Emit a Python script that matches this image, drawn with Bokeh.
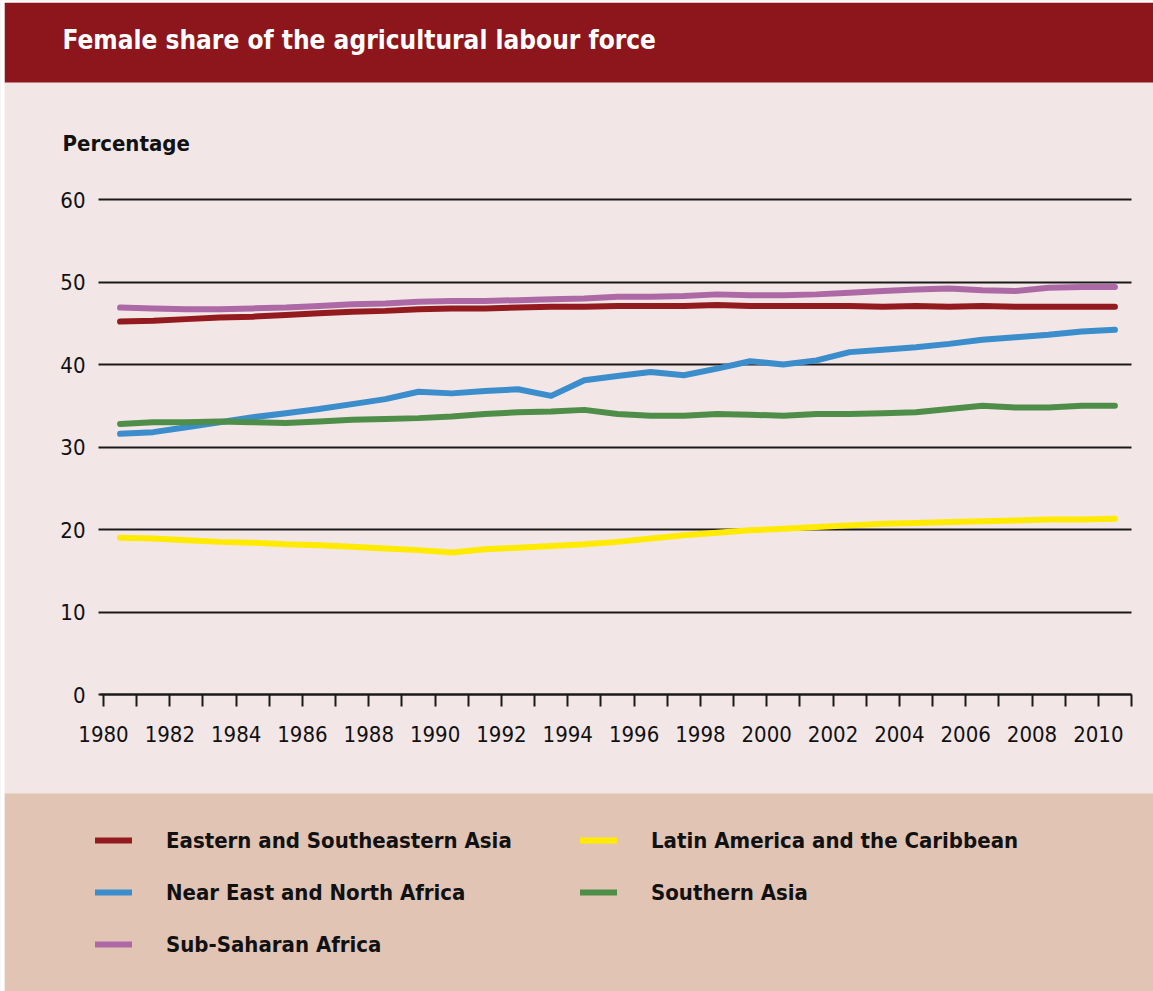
from bokeh.plotting import figure
from bokeh.models import (BoxAnnotation, Label, Legend, LegendItem, FixedTicker, Range1d)
from bokeh.embed import file_html
from bokeh.resources import INLINE

# ---- data ----
years = list(range(1980, 2011))
east_se_asia = [45.2, 45.3, 45.5, 45.7, 45.8, 46.0, 46.2, 46.4, 46.5, 46.7, 46.8,
                46.8, 46.9, 47.0, 47.0, 47.1, 47.1, 47.1, 47.2, 47.1, 47.1,
                47.1, 47.1, 47.0, 47.1, 47.0, 47.1, 47.0, 47.0, 47.0, 47.0]
latin_america = [19.0, 18.9, 18.7, 18.5, 18.4, 18.2, 18.1, 17.9, 17.7, 17.5, 17.2,
                 17.6, 17.8, 18.0, 18.2, 18.5, 18.9, 19.3, 19.6, 19.9, 20.1,
                 20.3, 20.5, 20.7, 20.8, 20.9, 21.0, 21.1, 21.2, 21.2, 21.3]
near_east = [31.6, 31.8, 32.4, 33.0, 33.6, 34.1, 34.6, 35.2, 35.8, 36.7, 36.5,
             36.8, 37.0, 36.2, 38.1, 38.6, 39.1, 38.7, 39.5, 40.4, 40.0,
             40.5, 41.5, 41.8, 42.1, 42.5, 43.0, 43.3, 43.6, 44.0, 44.2]
southern_asia = [32.8, 33.0, 33.0, 33.1, 33.0, 32.9, 33.1, 33.3, 33.4, 33.5, 33.7,
                 34.0, 34.2, 34.3, 34.5, 34.0, 33.8, 33.8, 34.0, 33.9, 33.8,
                 34.0, 34.0, 34.1, 34.2, 34.6, 35.0, 34.8, 34.8, 35.0, 35.0]
sub_saharan = [46.9, 46.8, 46.7, 46.7, 46.8, 46.9, 47.1, 47.3, 47.4, 47.6, 47.7,
               47.7, 47.8, 47.9, 48.0, 48.2, 48.2, 48.3, 48.5, 48.4, 48.4,
               48.5, 48.7, 48.9, 49.1, 49.2, 49.0, 48.9, 49.3, 49.4, 49.4]
series_names = ["Eastern and Southeastern Asia", "Latin America and the Caribbean",
                "Near East and North Africa", "Southern Asia", "Sub-Saharan Africa"]
y_ticks = [0, 10, 20, 30, 40, 50, 60]
x_ticks = list(range(1980, 2012))

# ---- styles / layout ----
FONT = "DejaVu Sans Condensed"
colors = ["#931a1e", "#ffea00", "#3b8dcb", "#4f8e48", "#ad69a5"]
PINK = "#f2e6e6"
RED = "#8d161c"
TAN = "#e2c4b4"
INK = "#111111"

W, H = 1153, 991
# plot area in canvas pixels: x 1980 -> 103, 2011 -> 1131; y 0 -> 694, 60 -> 199
X0_PX, X1_PX, Y0_PX, Y60_PX = 103, 1131, 694, 199
ppx = (X1_PX - X0_PX) / 31.0
ppy = (Y0_PX - Y60_PX) / 60.0
x_range = Range1d(1980 - X0_PX / ppx, 2011 + (W - X1_PX) / ppx)
y_range = Range1d(-(H - Y0_PX) / ppy, 60 + Y60_PX / ppy)

p = figure(width=W, height=H, x_range=x_range, y_range=y_range,
           output_backend="svg", toolbar_location=None,
           min_border=0, min_border_left=0, min_border_right=0,
           min_border_top=0, min_border_bottom=0)
p.background_fill_color = PINK
p.border_fill_color = PINK
p.outline_line_color = None


def canvas_box(l, r, t, b, color):
    return BoxAnnotation(left=l, right=r, top=t, bottom=b,
                         left_units="canvas", right_units="canvas",
                         top_units="canvas", bottom_units="canvas",
                         fill_color=color, fill_alpha=1, line_color=None,
                         level="underlay")


p.add_layout(canvas_box(4, W, 2, 82, RED))
p.add_layout(canvas_box(4, W, 793, H, TAN))
p.add_layout(canvas_box(0, 4, 0, H, "white"))
p.add_layout(canvas_box(0, W, 0, 2, "white"))

p.add_layout(Label(x=62, y=39, x_units="canvas", y_units="canvas",
                   text="Female share of the agricultural labour force",
                   text_font=FONT, text_font_style="bold", text_font_size="26px",
                   text_color="white", text_baseline="middle"))
p.add_layout(Label(x=62, y=143, x_units="canvas", y_units="canvas",
                   text="Percentage", text_font=FONT, text_font_style="bold",
                   text_font_size="22px", text_color=INK,
                   text_baseline="middle"))

# horizontal rules come from the y axis' own ticks (drawn under the data lines)
p.xgrid.visible = False
p.ygrid.visible = False

xa = p.xaxis[0]
xa.fixed_location = 0
xa.bounds = (1980 - 3 / ppx, 2011)
xa.ticker = FixedTicker(ticks=x_ticks)
xa.major_label_overrides = {t: (str(t) if t % 2 == 0 and t <= 2010 else "") for t in x_ticks}
xa.axis_line_color = "#1a1a1a"
xa.axis_line_width = 2
xa.major_tick_line_color = "#1a1a1a"
xa.major_tick_line_width = 2
xa.major_tick_in = 0
xa.major_tick_out = 12
xa.minor_tick_line_color = None
xa.major_label_standoff = 19
xa.major_label_text_font = FONT
xa.major_label_text_font_size = "22px"
xa.major_label_text_color = INK

ya = p.yaxis[0]
ya.fixed_location = 1980
ya.bounds = (0, 60)
ya.level = "underlay"
ya.ticker = FixedTicker(ticks=y_ticks)
ya.axis_line_color = None
ya.major_tick_line_color = "#1a1a1a"
ya.major_tick_line_width = 2
ya.major_tick_in = X1_PX - X0_PX
ya.major_tick_out = 5
ya.minor_tick_line_color = None
ya.major_label_standoff = 13
ya.major_label_text_font = FONT
ya.major_label_text_font_size = "22px"
ya.major_label_text_color = INK

xs = [y + 0.5 for y in years]
data = [east_se_asia, latin_america, near_east, southern_asia, sub_saharan]
renderers = []
for vals, c in zip(data, colors):
    r = p.line(xs, vals, line_color=c, line_width=6, line_join="round", line_cap="round")
    renderers.append(r)

# legend is filled column by column: col 1 = items 0, 2, 4; col 2 = items 1, 3
order = [0, 2, 4, 1, 3]
legend = Legend(items=[LegendItem(label=series_names[i], renderers=[renderers[i]]) for i in order],
                ncols=2, location=(95, 34),
                background_fill_alpha=0, border_line_alpha=0,
                label_text_font=FONT, label_text_font_style="bold",
                label_text_font_size="22px", label_text_color=INK,
                glyph_width=37, glyph_height=26, label_height=26, label_width=388,
                label_standoff=34, spacing=26, padding=0, margin=0)
p.add_layout(legend, "center")

open("out.html", "w").write(file_html(p, INLINE))
